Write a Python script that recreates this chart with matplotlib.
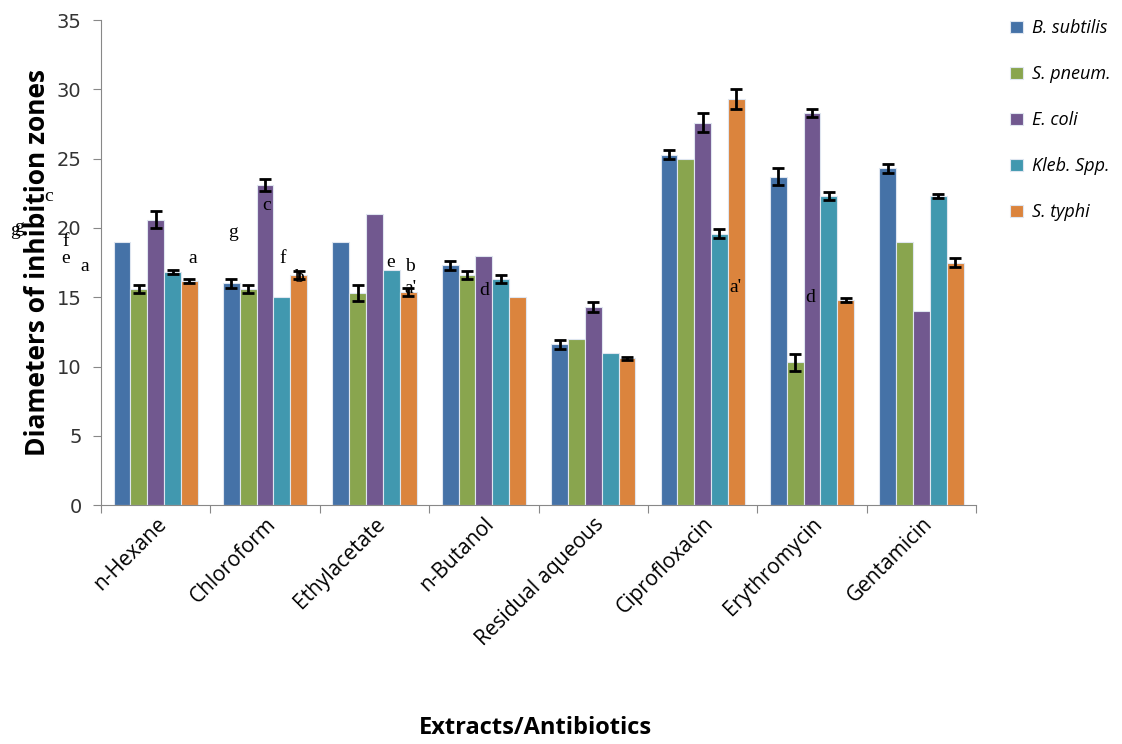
import matplotlib.pyplot as plt
import numpy as np

groups = ['n-Hexane', 'Chloroform', 'Ethylacetate', 'n-Butanol',
          'Residual aqueous', 'Ciprofloxacin', 'Erythromycin', 'Gentamicin']
strains = ['B. subtilis', 'S. pneum.', 'E. coli', 'Kleb. Spp.', 'S. typhi']

b_subtilis = [19.0, 16.0, 19.0, 17.3, 11.6, 25.3, 23.7, 24.3]
s_pneum = [15.6, 15.6, 15.3, 16.6, 12.0, 25.0, 10.3, 19.0]
e_coli = [20.6, 23.1, 21.0, 18.0, 14.3, 27.6, 28.3, 14.0]
kleb_spp = [16.8, 15.0, 17.0, 16.3, 11.0, 19.6, 22.3, 22.3]
s_typhi = [16.2, 16.6, 15.4, 15.0, 10.6, 29.3, 14.8, 17.5]

# standard errors (0 = no bar drawn)
b_subtilis_err = [0, 0.3, 0, 0.3, 0.3, 0.3, 0.6, 0.3]
s_pneum_err = [0.3, 0.3, 0.6, 0.3, 0, 0, 0.6, 0]
e_coli_err = [0.6, 0.4, 0, 0, 0.35, 0.7, 0.3, 0]
kleb_spp_err = [0.15, 0, 0, 0.3, 0, 0.3, 0.3, 0.12]
s_typhi_err = [0.15, 0.3, 0.3, 0, 0.12, 0.7, 0.12, 0.3]

# significance letters: (text, x in group units, y)
letters = [('c', -0.98, 22.3), ('g', -1.29, 19.8), ('g', -1.25, 20.0),
           ('f', -0.82, 19.0), ('e', -0.82, 17.8), ('a', -0.65, 17.2),
           ('a', 0.34, 17.8), ('g', 0.71, 19.7), ('c', 1.01, 21.6),
           ('f', 1.16, 17.8), ('b', 1.31, 16.4), ('e', 2.15, 17.5),
           ('b', 2.32, 17.2), ("a'", 2.33, 15.6), ('d', 3.0, 15.5),
           ("a'", 5.3, 15.7), ('d', 5.98, 15.0)]

values = [b_subtilis, s_pneum, e_coli, kleb_spp, s_typhi]
errors = [b_subtilis_err, s_pneum_err, e_coli_err, kleb_spp_err, s_typhi_err]
colors = ['#4572A7', '#89A54E', '#71588F', '#4198AF', '#DB843D']

fig = plt.figure(figsize=(11.22, 7.44), dpi=100)
ax = fig.add_axes([0.09, 0.321, 0.78, 0.652])

x = np.arange(len(groups))
w = 0.154
for i in range(5):
    pos = x + (i - 2) * w
    ax.bar(pos, values[i], w, color=colors[i], edgecolor='#dfe6f0',
           linewidth=0.8, label=strains[i], zorder=2)
    err = np.array(errors[i])
    m = err > 0
    ax.errorbar(pos[m], np.array(values[i])[m], yerr=err[m], fmt='none',
                ecolor='black', elinewidth=2, capsize=4, capthick=2, zorder=3)

for t, tx, ty in letters:
    ax.text(tx, ty, t, family='Liberation Serif', fontsize=14,
            ha='center', va='center', clip_on=False, zorder=4)

ax.set_xlim(-0.5, 7.5)
ax.set_ylim(0, 35)
ax.set_yticks(range(0, 36, 5))
ax.tick_params(axis='y', labelsize=14, length=6, color='#888888',
               labelcolor='#333333', pad=8)
ax.set_xticks(np.arange(-0.5, 8, 1))
ax.set_xticklabels([])
ax.tick_params(axis='x', length=6, color='#888888')
ax.set_xticks(x, minor=True)
ax.set_xticklabels(groups, minor=True, rotation=45, ha='right',
                   rotation_mode='anchor', fontsize=15, family='Open Sans')
ax.tick_params(axis='x', which='minor', length=0, pad=6)
for s in ['top', 'right']:
    ax.spines[s].set_visible(False)
for s in ['left', 'bottom']:
    ax.spines[s].set_color('#888888')

ax.set_ylabel('Diameters of inhibition zones', fontsize=19,
              fontweight='bold', family='Open Sans', labelpad=4)
fig.text(0.477, 0.005, 'Extracts/Antibiotics', fontsize=17,
         fontweight='bold', family='Open Sans', ha='center', va='bottom')

leg = ax.legend(loc='upper left', bbox_to_anchor=(1.02, 1.035), frameon=False,
                prop={'style': 'italic', 'size': 13, 'family': 'Open Sans'},
                handlelength=0.7, handleheight=0.7, labelspacing=1.55,
                handletextpad=0.5)

fig.savefig('out.png', dpi=100)
